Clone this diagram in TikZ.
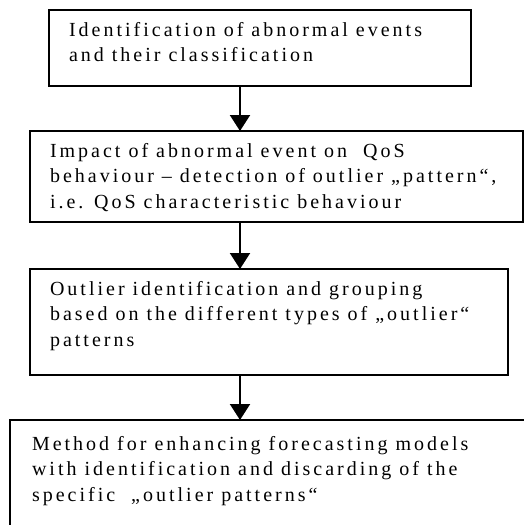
\documentclass[tikz,border=0pt]{standalone}
\usepackage{fontspec}
\setmainfont[LetterSpace=15]{Liberation Serif}
\usetikzlibrary{arrows.meta}
\tikzstyle{stage}=[draw, line width=1.5pt, inner sep=0, outer sep=0, anchor=north west]
\tikzstyle{stagetext}=[anchor=base west, inner sep=0, outer sep=0, align=left,
                       font=\fontsize{20}{25.5}\selectfont]
\tikzstyle{flow}=[line width=2pt, -{Triangle[width=20pt,length=16pt]}]
\tikzstyle{flowchart}=[x=1pt, y=-1pt,
                       % Page size of the original figure.
                       execute at begin picture={\useasboundingbox (0,0) rectangle (524,525); \clip (0,0) rectangle (524,525);}]

\begin{document}
\begin{tikzpicture}[flowchart]
    \node[stage, minimum width=422pt, minimum height=76pt] (box1) at (49, 10) {};
    \node[stage, minimum width=493pt, minimum height=91pt] (box2) at (30, 131) {};
    \node[stage, minimum width=478pt, minimum height=106pt] (box3) at (30, 269) {};
    \node[stage, minimum width=530pt, minimum height=130pt] (box4) at (10, 420) {};

    % base anchor sits on the last line
    \node[stagetext] (txt1) at ([shift={(20,51.5)}]box1.north west)
        {Identification of abnormal events\\and their classification};
    \node[stagetext] (txt2) at ([shift={(20,77)}]box2.north west)
        {Impact of abnormal event on \ QoS\\behaviour – detection of outlier „pattern“,\\i.e. QoS characteristic behaviour};
    \node[stagetext] (txt3) at ([shift={(20,77)}]box3.north west)
        {Outlier identification and grouping\\based on the different types of „outlier“\\patterns};
    \node[stagetext] (txt4) at ([shift={(22,81)}]box4.north west)
        {Method for enhancing forecasting models\\with identification and discarding of the\\specific \ „outlier patterns“};

    \coordinate (axis) at (240, 0);
    \draw[flow] (box1.south -| axis) -- (box2.north -| axis);
    \draw[flow] (box2.south -| axis) -- (box3.north -| axis);
    \draw[flow] (box3.south -| axis) -- (box4.north -| axis);
\end{tikzpicture}
\end{document}
